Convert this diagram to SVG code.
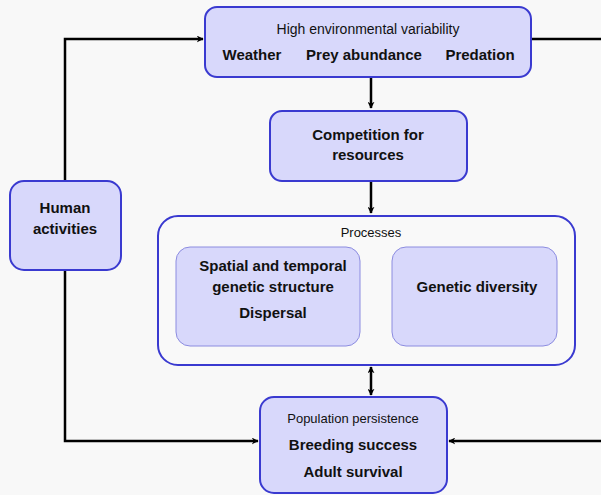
<svg xmlns="http://www.w3.org/2000/svg" width="601" height="495" viewBox="0 0 601 495">
<defs>
<marker id="ah" viewBox="0 0 10 10" refX="9" refY="5" markerWidth="7" markerHeight="7" markerUnits="userSpaceOnUse" orient="auto-start-reverse">
<path d="M0,0 L10,5 L0,10 L3,5 z" fill="#000"/>
</marker>
<style>
.box{fill:#d8d8fb;stroke:#3a3ad0;stroke-width:2}
.inner{fill:#d8d8fb;stroke:#8c8ce0;stroke-width:1}
.proc{fill:#f9f9f9;stroke:#3a3ad0;stroke-width:2}
.t{font-family:"Liberation Sans",Arial,sans-serif;fill:#111;text-anchor:middle}
.b{font-weight:bold;font-size:15px}
.n{font-size:13px}
.c{fill:none;stroke:#000;stroke-width:2.5}
</style>
</defs>
<rect width="601" height="495" fill="#f8f8f8"/>
<g id="connectors">
<path class="c" d="M371,77 L371,108" marker-end="url(#ah)"/>
<path class="c" d="M371,181 L371,213" marker-end="url(#ah)"/>
<path class="c" d="M360,297 L390,297" marker-end="url(#ah)"/>
<path class="c" d="M371,367 L371,395" marker-start="url(#ah)" marker-end="url(#ah)"/>
<path class="c" d="M65,181 L65,39 L203,39" marker-end="url(#ah)"/>
<path class="c" d="M65,270 L65,441 L258,441" marker-end="url(#ah)"/>
<path class="c" d="M531,39 L601,39"/>
<path class="c" d="M601,441 L449,441" marker-end="url(#ah)"/>
</g>
<g id="env">
<rect class="box" x="205" y="7" width="326" height="70" rx="12"/>
<text class="t n" x="368" y="34" style="font-size:14px">High environmental variability</text>
<text class="t b" x="252" y="60">Weather</text>
<text class="t b" x="364" y="60">Prey abundance</text>
<text class="t b" x="480" y="60">Predation</text>
</g>
<g id="competition">
<rect class="box" x="270" y="111" width="197" height="70" rx="12"/>
<text class="t b" x="368" y="140">Competition for</text>
<text class="t b" x="368" y="160">resources</text>
</g>
<g id="human">
<rect class="box" x="10" y="181" width="111" height="89" rx="14"/>
<text class="t b" x="65" y="213">Human</text>
<text class="t b" x="65" y="234">activities</text>
</g>
<g id="processes">
<rect class="proc" x="158" y="216" width="417" height="149" rx="20"/>
<text class="t n" x="371" y="237">Processes</text>
</g>
<g id="structure">
<rect class="inner" x="176" y="247" width="184" height="99" rx="14"/>
<text class="t b" x="273" y="271">Spatial and temporal</text>
<text class="t b" x="273" y="292">genetic structure</text>
<text class="t b" x="273" y="318">Dispersal</text>
</g>
<g id="diversity">
<rect class="inner" x="392" y="247" width="165" height="99" rx="14"/>
<text class="t b" x="477" y="292">Genetic diversity</text>
</g>
<g id="population">
<rect class="box" x="260" y="397" width="187" height="96" rx="14"/>
<text class="t n" x="353" y="423">Population persistence</text>
<text class="t b" x="353" y="450">Breeding success</text>
<text class="t b" x="353" y="477">Adult survival</text>
</g>
</svg>
